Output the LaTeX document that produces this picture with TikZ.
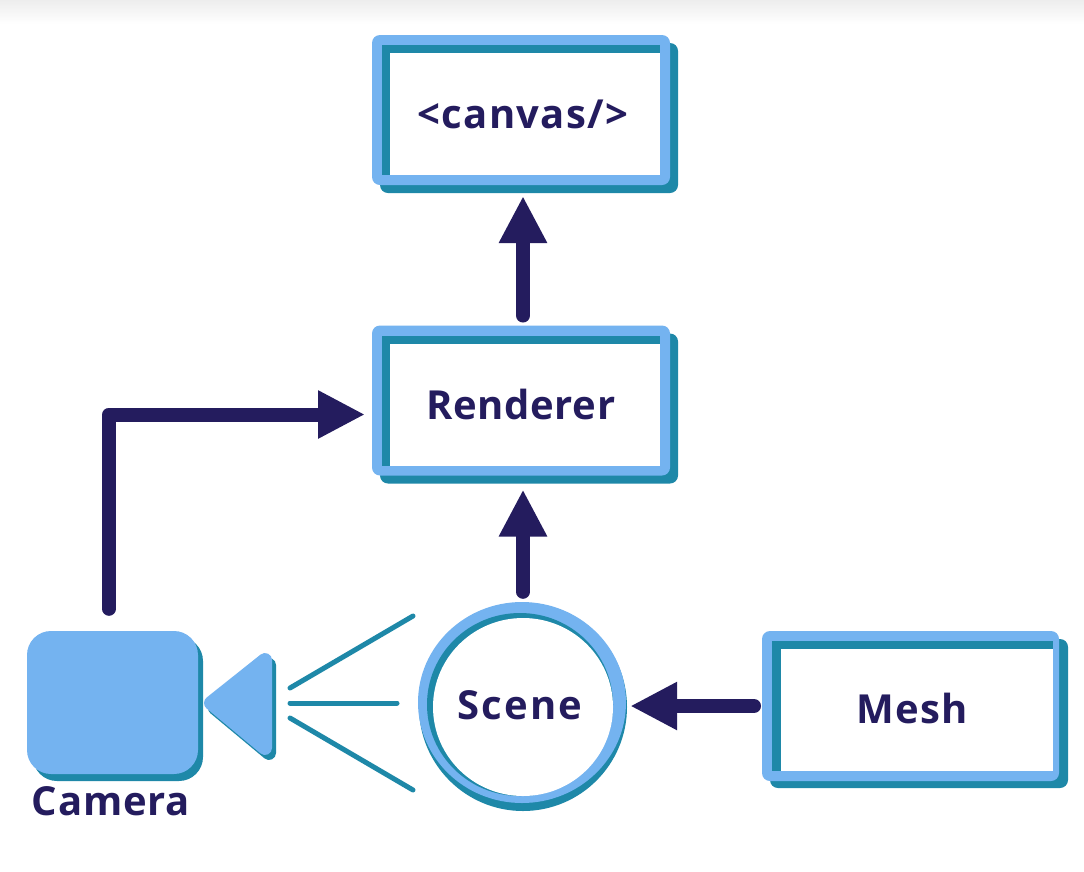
\documentclass[tikz,border=0pt]{standalone}
\usepackage{fontspec}
\setmainfont{Open Sans}
\usetikzlibrary{arrows.meta,shapes.geometric}
\definecolor{lightblue}{HTML}{74B3F0}
\definecolor{teal2}{HTML}{1E88A8}
\definecolor{navy}{HTML}{241C5E}
\newcommand{\spaced}[2]{{\addfontfeature{LetterSpace=#1}#2}}
\tikzset{
  x=1pt,y=-1pt,
  outerbox/.style={rectangle,fill=lightblue,rounded corners=8pt,inner sep=0pt,outer sep=0pt,minimum width=298pt,minimum height=150pt},
  shadowfill/.style={fill=teal2,rounded corners=8pt},
  labeltext/.style={font=\fontsize{40}{40}\selectfont\bfseries,text=navy,inner sep=0pt},
  flow/.style={draw=navy,line width=14pt,line join=round,-{Triangle[width=45pt,length=47pt]}},
  ray/.style={draw=teal2,line width=5pt,line cap=round},
}
% name, centre x, centre y of outer box, text, text x, text y
\newcommand{\flatbox}[6]{%
  \fill[shadowfill] (#2-141,#3-67) rectangle (#2+157,#3+83);
  \node[outerbox] (#1) at (#2,#3) {};
  \fill[teal2] (#2-139,#3-65) rectangle (#2+139,#3+65);
  \fill[white] (#2-131,#3-57) rectangle (#2+139,#3+65);
  \node[labeltext] (#1-label) at (#5,#6) {#4};
}
\begin{document}
\begin{tikzpicture}
\useasboundingbox (0,0) rectangle (1084,871);
\fill[white] (0,0) rectangle (1084,871);
\shade[top color=black!7,bottom color=white] (0,0) rectangle (1084,24);

\flatbox{canvas}{521}{110}{\spaced{3.3}{<canvas/>}}{523}{114}
\flatbox{renderer}{521}{400.5}{\spaced{1.5}{Renderer}}{521}{404}

% mesh
\fill[shadowfill] (770,639) rectangle (1068,788);
\node[outerbox,minimum width=297pt,minimum height=150pt] (mesh) at (910.5,706) {};
\fill[teal2] (772,641) rectangle (1053,771);
\fill[white] (781,649) rectangle (1053,771);
\node[labeltext] (mesh-label) at (912,708) {\spaced{3.5}{Mesh}};

% scene
\fill[teal2] (523,707) ellipse [x radius=104,y radius=104];
\node[ellipse,fill=lightblue,inner sep=0pt,minimum width=208pt,minimum height=201pt] (scene) at (522,702.5) {};
\fill[teal2] (520,704.5) ellipse [x radius=93,y radius=91.5];
\fill[white] (523,707) ellipse [x radius=90,y radius=89];
\node[labeltext] (scene-label) at (520,705) {\spaced{5}{Scene}};

% camera
\fill[teal2,rounded corners=24pt] (33,637) rectangle (203,781);
\node[rectangle,fill=lightblue,rounded corners=24pt,inner sep=0pt,minimum width=171pt,minimum height=143pt] (camera) at (112.5,702.5) {};
\node[labeltext,anchor=base] (camera-label) at (111,815) {\spaced{2}{Camera}};
\fill[teal2,draw=teal2,line width=14pt,line join=round] (215,708) -- (269,665) -- (269,753) -- cycle;
\fill[lightblue,draw=lightblue,line width=14pt,line join=round] (211,703) -- (265,660) -- (265,748) -- cycle;

% rays
\coordinate (rayA) at (290,688); \coordinate (rayAe) at (413,616);
\coordinate (rayB) at (290,703); \coordinate (rayBe) at (397,703);
\coordinate (rayC) at (290,718); \coordinate (rayCe) at (413,790);
\draw[ray] (rayA) -- (rayAe);
\draw[ray] (rayB) -- (rayBe);
\draw[ray] (rayC) -- (rayCe);

% connectors
\draw[flow,line cap=round,shorten <=10pt,shorten >=11pt] ([xshift=2pt]renderer.north) -- ([xshift=2pt]canvas.south);
\draw[flow,line cap=round,shorten <=10pt,shorten >=14pt] ([xshift=1pt]scene.north) -- ([xshift=2pt]renderer.south);
\draw[flow,line cap=round,shorten <=8pt,shorten >=4pt] (mesh.west) -- (mesh.west -| scene.east);
\draw[flow,line cap=round,shorten <=22pt,shorten >=7pt] ([xshift=-3.5pt]camera.north) |- ([yshift=-14pt]renderer.west);
\end{tikzpicture}
\end{document}
